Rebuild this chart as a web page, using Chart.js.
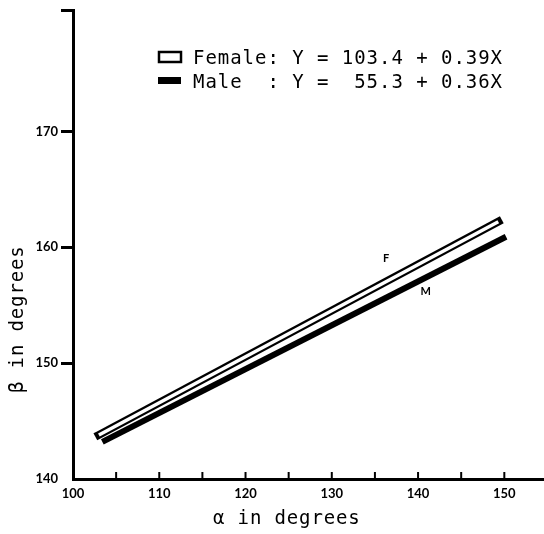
<!DOCTYPE html>
<html>
<head>
<meta charset="utf-8">
<script src="https://cdn.jsdelivr.net/npm/chart.js@4/dist/chart.umd.min.js"></script>
<style>
    html, body { margin: 0; padding: 0; background: #fff; }
    #wrap { width: 544px; height: 534px; }
</style>
</head>
<body>
<div id="wrap"><canvas id="angleChart" width="544" height="534"></canvas></div>
<script>
// regression lines (alpha -> beta)
const femaleAlpha = [103.0, 149.3];
const femaleBeta = [143.8, 162.2];
const maleAlpha = [103.4, 150.2];
const maleBeta = [143.2, 160.9];

const xTickValues = [100, 110, 120, 130, 140, 150];
const xTickMarks = [105, 110, 115, 120, 125, 130, 135, 140, 145, 150];
const yTickValues = [140, 150, 160, 170];

const legendLines = [
    "Female: Y = 103.4 + 0.39X",
    "Male  : Y =  55.3 + 0.36X"
];
const lineTags = [
    { text: "F", x: 136.3, y: 159.0 },
    { text: "M", x: 140.9, y: 156.2 }
];

const X_MIN = 100, X_MAX = 154.6;
const Y_MIN = 140, Y_MAX = 180.4;

function toPoints(xs, ys) {
    return xs.map((x, i) => ({ x: x, y: ys[i] }));
}

function drawMono(ctx, text, x, y, advance) {
    for (let i = 0; i < text.length; i++) {
        ctx.fillText(text[i], x + i * advance, y);
    }
}

const extrasPlugin = {
    id: "extras",
    afterDraw(chart) {
        const ctx = chart.ctx;
        const xs = chart.scales.x;
        const ys = chart.scales.y;
        ctx.save();

        // inward tick marks on the alpha axis
        ctx.strokeStyle = "#000";
        ctx.lineWidth = 2;
        for (const v of xTickMarks) {
            const px = xs.getPixelForValue(v);
            ctx.beginPath();
            ctx.moveTo(px, ys.bottom);
            ctx.lineTo(px, ys.bottom - 7);
            ctx.stroke();
        }

        // F / M tags next to the lines
        ctx.fillStyle = "#000";
        ctx.font = "bold 11px Lato";
        ctx.textAlign = "center";
        ctx.textBaseline = "middle";
        for (const t of lineTags) {
            ctx.fillText(t.text, xs.getPixelForValue(t.x), ys.getPixelForValue(t.y));
        }

        // legend
        ctx.lineWidth = 2.5;
        ctx.strokeRect(159, 52, 22, 10);
        ctx.fillRect(158, 77, 23, 7);
        ctx.font = "19px 'DejaVu Sans Mono'";
        ctx.textAlign = "left";
        ctx.textBaseline = "alphabetic";
        drawMono(ctx, legendLines[0], 193, 64, 12.4);
        drawMono(ctx, legendLines[1], 193, 88, 12.4);

        // axis titles
        drawMono(ctx, "α in degrees", 213, 524, 12.3);
        ctx.translate(23, 393);
        ctx.rotate(-Math.PI / 2);
        drawMono(ctx, "β in degrees", 0, 0, 12.3);

        ctx.restore();
    }
};

function initChart() {
    const data = {
        datasets: [
            {
                label: "Female inner",
                data: toPoints(femaleAlpha, femaleBeta),
                borderColor: "#fff",
                borderWidth: 3.5,
                borderCapStyle: "butt",
                pointRadius: 0,
                fill: false,
                order: 0
            },
            {
                label: "Female",
                data: toPoints(femaleAlpha, femaleBeta),
                borderColor: "#000",
                borderWidth: 8,
                borderCapStyle: "square",
                pointRadius: 0,
                fill: false,
                order: 1
            },
            {
                label: "Male",
                data: toPoints(maleAlpha, maleBeta),
                borderColor: "#000",
                borderWidth: 6,
                borderCapStyle: "butt",
                pointRadius: 0,
                fill: false,
                order: 2
            }
        ]
    };

    const config = {
        type: "line",
        data: data,
        options: {
            animation: false,
            responsive: false,
            devicePixelRatio: 1,
            layout: {
                padding: { top: 10, left: 0, right: 0, bottom: 0 }
            },
            plugins: {
                legend: { display: false },
                tooltip: { enabled: false }
            },
            scales: {
                x: {
                    type: "linear",
                    min: X_MIN,
                    max: X_MAX,
                    afterFit: (scale) => { scale.height = 55; },
                    afterBuildTicks: (scale) => {
                        scale.ticks = xTickValues.map(v => ({ value: v }));
                    },
                    border: { color: "#000", width: 3 },
                    grid: { display: true, drawOnChartArea: false, drawTicks: false },
                    ticks: {
                        color: "#000",
                        padding: 7,
                        maxRotation: 0,
                        font: { family: "Lato", size: 13, weight: "bold" }
                    }
                },
                y: {
                    type: "linear",
                    min: Y_MIN,
                    max: Y_MAX,
                    afterFit: (scale) => { scale.width = 73; },
                    afterBuildTicks: (scale) => {
                        scale.ticks = yTickValues.concat([Y_MAX]).map(v => ({ value: v }));
                    },
                    border: { color: "#000", width: 3 },
                    grid: {
                        display: true,
                        drawOnChartArea: false,
                        tickLength: 12,
                        tickWidth: 3,
                        tickColor: (ctx) => (ctx.tick && ctx.tick.value === Y_MIN) ? "rgba(0,0,0,0)" : "#000"
                    },
                    ticks: {
                        color: "#000",
                        padding: 3,
                        font: { family: "Lato", size: 13, weight: "bold" },
                        callback: (value) => yTickValues.includes(value) ? String(value) : ""
                    }
                }
            }
        },
        plugins: [extrasPlugin]
    };

    new Chart(document.getElementById("angleChart").getContext("2d"), config);
}

document.addEventListener("DOMContentLoaded", function () {
    initChart();
});
</script>
</body>
</html>
